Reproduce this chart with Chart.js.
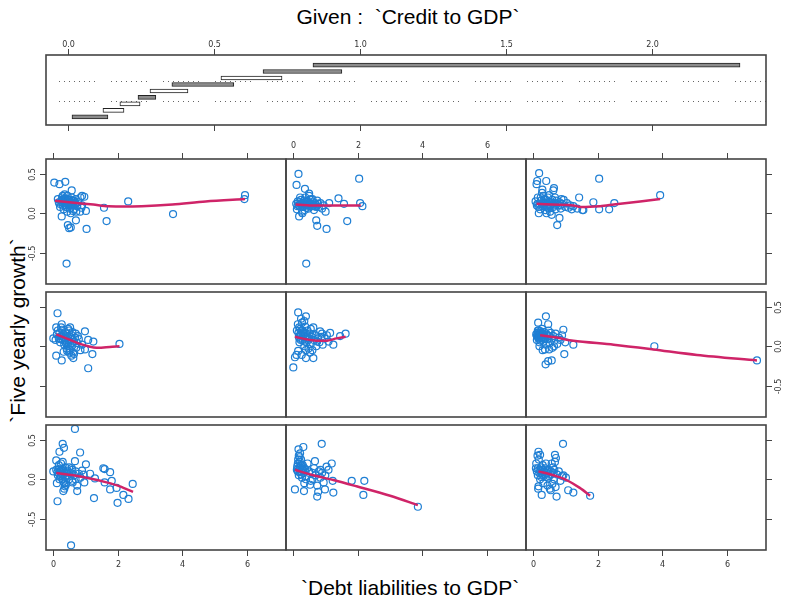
<!DOCTYPE html>
<html>
<head>
<meta charset="utf-8">
<script src="https://cdn.jsdelivr.net/npm/chart.js@4"></script>
<style>
  html, body { margin: 0; padding: 0; background: #fff; }
  #wrap { position: relative; width: 788px; height: 602px; overflow: hidden; background: #fff; }
  #wrap canvas { position: absolute; }
  .lbl { position: absolute; font: 21px 'Liberation Sans', Arial, sans-serif; color: #000; white-space: nowrap; line-height: 1; }
</style>
</head>
<body>
<div id="wrap">
  <div class="lbl" id="tGiven">Given :&nbsp; `Credit to GDP`</div>
  <div class="lbl" id="tX">`Debt liabilities to GDP`</div>
  <div class="lbl" id="tY">`Five yearly growth`</div>
</div>
<script>
// ticks
const X_TICKS = [0, 2, 4, 6];
const Y_TICKS = [0.5, 0.0, -0.5];
const GIVEN_TICKS = [0, 0.5, 1.0, 1.5, 2.0];

// given intervals (Credit to GDP), bottom to top
const GIVEN_LO = [0.014, 0.120, 0.178, 0.240, 0.281, 0.356, 0.524, 0.668, 0.839];
const GIVEN_HI = [0.137, 0.192, 0.247, 0.301, 0.411, 0.568, 0.733, 0.938, 2.301];
const GIVEN_SEP = [3.5, 6.5];

// panels 1..3 bottom row, 4..6 middle, 7..9 top (coplot order)
const P1_PTS = [[0.68,0.64],[0.3,0.45],[0.34,0.40],[0.2,0.35],[0.84,0.34],[0.1,0.24],[0.68,0.23],[1.02,0.19],[0.58,0.14],[1.56,0.14],[1.6,0.13],[1.15,0.07],[1.77,0.09],[1.3,0.01],[1.82,-0.02],[1.6,-0.04],[0.97,-0.04],[0.61,-0.04],[2.47,-0.06],[1.97,-0.11],[1.77,-0.13],[0.75,-0.15],[0.32,-0.15],[2.18,-0.2],[2.34,-0.25],[1.27,-0.24],[2.0,-0.3],[0.14,-0.28],[0.56,-0.84],[0.01,0.1],[0.37,-0.09],
  [0.1,0.12],[0.15,0.05],[0.18,0.18],[0.2,0.0],[0.22,0.1],[0.25,0.2],[0.28,0.06],[0.3,0.13],[0.32,-0.03],[0.35,0.08],[0.38,0.15],[0.4,-0.07],[0.42,0.04],[0.45,0.11],[0.5,0.0],[0.55,0.08],[0.6,0.12],[0.65,0.05],[0.7,0.1],[0.75,-0.08],[0.8,0.07],[0.85,0.02],[0.9,0.11],[0.95,0.06],[0.12,-0.05],[0.3,0.22],[0.5,0.15],[0.35,-0.12],[0.25,0.12],[0.45,0.05],[0.7,0.0],[0.6,-0.02],
  [0.14,0.09],[0.19,0.07],[0.24,0.04],[0.27,0.11],[0.33,0.1],[0.37,0.03],[0.4,0.09],[0.17,0.13],[0.29,0.0],[0.36,-0.05]];
const P1_FIT = [[0.1,0.08],[0.63,0.05],[1.15,0.01],[1.66,-0.04],[2.07,-0.09],[2.48,-0.16]];

const P2_PTS = [[0.89,0.45],[0.17,0.38],[0.32,0.41],[0.22,0.33],[0.68,0.23],[1.2,0.2],[1.04,0.16],[1.82,-0.02],[2.21,-0.02],[2.18,-0.2],[3.87,-0.35],[0.06,-0.13],[0.34,-0.15],[0.75,-0.22],[1.25,-0.17],[0.99,-0.13],[0.78,-0.16],[0.53,-0.07],[1.23,-0.02],
  [0.12,0.12],[0.15,0.2],[0.18,0.05],[0.2,0.28],[0.22,0.15],[0.25,0.1],[0.28,0.02],[0.3,0.18],[0.32,0.08],[0.35,-0.05],[0.38,0.13],[0.42,0.04],[0.45,0.2],[0.5,0.1],[0.55,-0.02],[0.6,0.08],[0.65,0.14],[0.7,0.05],[0.75,-0.08],[0.8,0.1],[0.85,0.02],[0.9,0.08],[0.95,-0.04],[1.0,0.05],[1.1,0.12],[0.18,0.3],[0.25,0.25],[0.4,0.0],[0.6,0.0],[0.85,0.12],[0.15,0.1],[0.3,0.12],
  [0.13,0.16],[0.17,0.14],[0.2,0.09],[0.24,0.18],[0.27,0.13],[0.33,0.15],[0.36,0.1],[0.21,0.22],[0.16,0.25],[0.26,0.06]];
const P2_FIT = [[0.06,0.12],[0.63,0.05],[1.25,-0.01],[1.97,-0.09],[3.01,-0.21],[3.87,-0.33]];

const P3_PTS = [[0.93,0.45],[0.17,0.35],[0.22,0.31],[0.68,0.31],[0.71,0.27],[0.73,-0.22],[0.27,-0.2],[0.17,-0.09],[1.25,-0.17],[1.09,-0.14],[1.77,-0.21],[0.94,0.05],[1.02,0.02],[0.09,0.14],
  [0.1,0.2],[0.12,0.1],[0.15,0.05],[0.18,0.25],[0.2,0.12],[0.22,0.0],[0.25,0.15],[0.28,0.07],[0.3,0.18],[0.32,-0.05],[0.35,0.1],[0.38,0.14],[0.4,0.03],[0.42,0.08],[0.45,-0.08],[0.48,0.12],[0.5,0.04],[0.52,-0.12],[0.55,0.1],[0.58,0.2],[0.6,-0.06],[0.62,0.15],[0.65,0.0],[0.68,0.22],[0.7,-0.1],[0.75,0.06],[0.8,0.1],[0.85,-0.02],[0.9,0.04],[0.14,0.3],[0.16,-0.12],[0.55,-0.14],[0.4,0.2],[0.3,0.05],[0.66,0.12],[0.2,0.08],
  [0.15,0.14],[0.23,0.1],[0.27,0.12],[0.33,0.09],[0.37,0.06],[0.44,0.11],[0.47,0.02],[0.26,0.03],[0.56,0.06],[0.64,0.08]];
const P3_FIT = [[0.17,0.1],[0.63,0.05],[1.04,-0.01],[1.45,-0.11],[1.77,-0.21]];

const P4_PTS = [[0.14,0.42],[0.1,0.24],[0.27,0.28],[0.53,0.24],[0.99,0.19],[1.09,0.08],[1.25,0.06],[0.99,-0.04],[1.22,-0.1],[1.09,-0.28],[0.1,-0.12],[0.27,-0.18],[0.63,-0.15],[2.06,0.03],[0.77,0.13],[0.01,0.1],[0.5,-0.08],
  [0.12,0.15],[0.15,0.2],[0.18,0.1],[0.2,0.17],[0.22,0.05],[0.25,0.13],[0.28,0.21],[0.3,0.08],[0.32,0.15],[0.35,0.02],[0.38,0.18],[0.4,0.1],[0.42,-0.03],[0.45,0.13],[0.48,0.05],[0.5,0.2],[0.52,-0.05],[0.55,0.09],[0.58,0.14],[0.6,0.01],[0.62,-0.08],[0.65,0.06],[0.68,0.11],[0.72,-0.02],[0.75,0.04],[0.8,0.09],[0.85,-0.05],[0.9,0.02],[0.08,0.08],[0.25,0.24],[0.33,-0.07],[0.47,0.22],[0.57,-0.12],[0.7,0.16],[0.4,0.04],[0.55,0.0],[0.65,-0.1],[0.3,0.12],
  [0.24,0.09],[0.34,0.11],[0.37,0.07],[0.43,0.16],[0.46,0.0],[0.5,0.07],[0.53,0.12],[0.58,0.04],[0.44,-0.06],[0.6,0.18]];
const P4_FIT = [[0.1,0.15],[0.53,0.08],[0.84,0.03],[1.09,0.0],[1.35,-0.02],[1.76,-0.01],[2.06,0.0]];

const P5_PTS = [[0.16,0.43],[0.4,0.38],[0.01,-0.27],[0.06,-0.14],[0.11,-0.11],[0.16,-0.06],[0.27,-0.11],[0.63,-0.15],[0.53,-0.08],[0.4,-0.15],[1.63,0.16],[1.46,0.13],[1.25,0.02],[1.15,0.17],[0.84,0.19],[0.63,0.24],
  [0.12,0.2],[0.15,0.28],[0.18,0.12],[0.2,0.05],[0.22,0.22],[0.25,0.15],[0.28,0.3],[0.3,0.08],[0.32,0.18],[0.35,0.0],[0.38,0.25],[0.4,0.12],[0.42,0.05],[0.45,0.2],[0.48,-0.03],[0.5,0.1],[0.52,0.16],[0.55,0.03],[0.58,0.12],[0.6,-0.05],[0.65,0.08],[0.7,0.14],[0.72,0.0],[0.78,0.1],[0.82,0.05],[0.88,0.12],[0.92,0.02],[0.98,0.1],[1.05,0.14],[1.1,0.06],[0.25,0.35],[0.35,0.32],[0.2,0.1],[0.3,0.2],[0.45,0.1],[0.6,0.15],[0.75,0.06],[0.9,0.16],[0.55,0.22],[0.4,-0.05],
  [0.17,0.17],[0.21,0.14],[0.24,0.08],[0.27,0.2],[0.31,0.13],[0.34,0.16],[0.37,0.06],[0.43,0.14],[0.47,0.08],[0.19,0.24]];
const P5_FIT = [[0.06,0.12],[0.53,0.08],[1.04,0.07],[1.35,0.1],[1.63,0.12]];

const P6_PTS = [[0.4,0.38],[0.16,0.3],[0.47,0.28],[0.94,0.21],[1.25,0.02],[0.97,-0.1],[0.37,-0.04],[0.39,-0.23],[0.47,-0.19],[0.58,-0.18],[3.76,0.0],[6.94,-0.18],
  [0.1,0.15],[0.12,0.08],[0.15,0.2],[0.18,0.12],[0.2,0.05],[0.22,0.17],[0.25,0.1],[0.28,0.22],[0.3,0.14],[0.32,0.06],[0.35,0.18],[0.38,0.11],[0.4,0.02],[0.42,0.15],[0.45,0.09],[0.48,0.2],[0.5,0.13],[0.52,0.04],[0.55,0.17],[0.58,0.1],[0.6,-0.02],[0.63,0.13],[0.66,0.07],[0.7,0.16],[0.75,0.03],[0.8,0.11],[0.85,0.08],[0.9,0.14],[1.0,0.05],[0.2,0.0],[0.3,-0.05],[0.5,-0.04],[0.65,0.0],[0.25,0.13],[0.35,0.12],[0.45,0.14],[0.15,0.12],[0.28,0.16],
  [0.12,0.13],[0.14,0.17],[0.17,0.1],[0.19,0.15],[0.21,0.12],[0.23,0.19],[0.26,0.15],[0.29,0.11],[0.33,0.15],[0.36,0.09],[0.18,0.2],[0.24,0.07]];
const P6_FIT = [[0.22,0.14],[0.73,0.11],[1.25,0.07],[2.5,0.02],[3.73,-0.04],[5.08,-0.11],[6.94,-0.18]];

const P7_PTS = [[0.04,0.39],[0.2,0.37],[0.38,0.40],[0.58,0.29],[0.97,0.21],[0.9,0.22],[1.02,0.03],[0.84,0.02],[0.9,0.1],[2.33,0.15],[3.72,-0.01],[5.95,0.23],[5.93,0.18],[1.58,0.07],[1.66,-0.10],[1.04,-0.2],[0.42,-0.64],[0.5,-0.19],[0.55,-0.18],[0.46,-0.15],[0.71,-0.09],[0.27,-0.04],
  [0.15,0.18],[0.2,0.12],[0.25,0.15],[0.28,0.2],[0.3,0.1],[0.32,0.16],[0.35,0.13],[0.38,0.19],[0.4,0.08],[0.42,0.15],[0.45,0.22],[0.47,0.12],[0.5,0.17],[0.52,0.06],[0.55,0.14],[0.58,0.2],[0.6,0.1],[0.62,0.16],[0.65,0.05],[0.68,0.12],[0.7,0.18],[0.75,0.09],[0.78,0.14],[0.85,0.2],[0.88,0.07],[0.22,0.08],[0.33,0.05],[0.44,0.02],[0.36,0.24],[0.5,0.1],[0.3,0.22],[0.55,0.0],[0.62,0.03],[0.18,0.14],[0.27,0.17],[0.41,0.12],[0.46,0.18],[0.57,0.11],[0.66,0.15],[0.72,0.02],
  [0.29,0.14],[0.34,0.18],[0.37,0.1],[0.39,0.15],[0.43,0.18],[0.48,0.15],[0.53,0.12],[0.56,0.17],[0.6,0.13],[0.64,0.1]];
const P7_FIT = [[0.06,0.16],[0.5,0.14],[1.25,0.11],[1.72,0.09],[2.75,0.09],[3.7,0.11],[4.73,0.15],[5.95,0.18]];

const P8_PTS = [[0.17,0.50],[0.11,0.36],[0.37,0.31],[0.5,0.25],[0.19,-0.04],[0.29,0.0],[0.72,-0.09],[0.75,-0.16],[1.04,-0.2],[1.68,-0.1],[1.41,0.19],[1.58,0.12],[2.05,0.44],[2.08,0.13],[2.15,0.09],[0.41,-0.64],[1.12,0.13],[1.01,0.02],
  [0.1,0.12],[0.15,0.15],[0.2,0.1],[0.25,0.17],[0.3,0.08],[0.33,0.13],[0.38,0.2],[0.4,0.11],[0.45,0.15],[0.48,0.06],[0.52,0.13],[0.55,0.18],[0.58,0.09],[0.62,0.14],[0.65,0.04],[0.7,0.11],[0.75,0.16],[0.8,0.08],[0.85,0.13],[0.9,0.06],[0.12,0.05],[0.22,0.2],[0.28,0.02],[0.35,0.16],[0.42,0.07],[0.5,0.22],[0.6,0.18],[0.68,0.13],[0.78,0.12],[0.95,0.1],[0.18,0.1],[0.27,0.13],[0.44,0.1],[0.56,0.12],[0.72,0.08],[0.36,0.04],
  [0.14,0.09],[0.2,0.14],[0.24,0.11],[0.3,0.12],[0.34,0.09],[0.39,0.13],[0.46,0.11],[0.53,0.09],[0.6,0.11],[0.66,0.09]];
const P8_FIT = [[0.08,0.11],[0.5,0.1],[1.0,0.1],[1.5,0.1],[2.1,0.1]];

const P9_PTS = [[0.19,0.51],[0.13,0.41],[0.11,0.37],[0.41,0.41],[0.29,0.30],[0.65,0.32],[0.63,0.29],[0.5,0.23],[0.75,-0.15],[0.82,-0.06],[1.43,0.2],[1.87,0.14],[2.05,0.44],[2.36,0.05],[2.52,0.13],[2.05,0.05],[1.53,0.04],[1.56,0.04],[1.37,0.06],[3.94,0.23],
  [0.08,0.15],[0.12,0.1],[0.15,0.2],[0.2,0.12],[0.22,0.05],[0.25,0.16],[0.3,0.09],[0.32,0.22],[0.35,0.13],[0.38,0.04],[0.4,0.17],[0.43,0.1],[0.46,0.2],[0.48,0.07],[0.5,0.14],[0.53,0.02],[0.56,0.11],[0.6,0.17],[0.63,0.08],[0.66,0.13],[0.7,0.05],[0.73,0.16],[0.78,0.1],[0.82,0.14],[0.86,0.06],[0.9,0.12],[0.95,0.17],[1.0,0.08],[1.05,0.13],[1.1,0.07],[1.15,0.1],[1.2,0.05],[1.25,0.09],[0.18,0.0],[0.28,0.26],[0.42,0.0],[0.58,-0.02],[0.68,0.2],[0.88,0.18],[0.45,0.07],[0.62,0.12],[0.36,0.18],[0.52,0.09],[0.24,0.2],
  [0.14,0.12],[0.17,0.08],[0.27,0.12],[0.33,0.1],[0.4,0.13],[0.47,0.11],[0.55,0.14],[0.65,0.1],[0.75,0.12],[0.85,0.1]];
const P9_FIT = [[0.11,0.12],[0.6,0.11],[1.25,0.1],[1.46,0.08],[2.08,0.09],[2.5,0.11],[3.32,0.15],[3.94,0.18]];

// styles
const PT_COL = '#1f7fd4';
const FIT_COL = '#cf2468';
const FRAME_COL = '#444';
const TICK_FONT = "8px 'DejaVu Sans', sans-serif";
const BAR_FILL = ['#8c8c8c','#ffffff','#ffffff','#8c8c8c','#ffffff','#8c8c8c','#ffffff','#8c8c8c','#8c8c8c'];
const M = 30; // canvas margin round each plot box

const wrap = document.getElementById('wrap');

function fmt1(v) { return v.toFixed(1); }

// box + R style ticks, drawn from the chart's own scales
const rFrame = {
  id: 'rFrame',
  beforeDatasetsDraw(chart, args, o) {
    if (!o.hLines) return;
    const { ctx, chartArea: a, scales } = chart;
    ctx.save();
    ctx.strokeStyle = '#666';
    ctx.lineWidth = 1;
    const dash = [];
    for (let i = 0; i < 8; i++) dash.push(1, 4);
    dash[dash.length - 1] = 16;
    ctx.setLineDash(dash);
    o.hLines.forEach(v => {
      const y = Math.round(scales.y.getPixelForValue(v)) + 0.5;
      ctx.beginPath(); ctx.moveTo(a.left + 13, y); ctx.lineTo(a.right, y); ctx.stroke();
    });
    ctx.restore();
  },
  afterDraw(chart, args, o) {
    const { ctx, chartArea: a, scales } = chart;
    ctx.save();
    ctx.strokeStyle = FRAME_COL;
    ctx.lineWidth = 1.6;
    ctx.strokeRect(a.left, a.top, a.width, a.height);
    ctx.lineWidth = 1;
    ctx.font = TICK_FONT;
    ctx.fillStyle = '#333';
    const s = o.sides || {};
    ['top', 'bottom', 'left', 'right'].forEach(side => {
      const mode = s[side];
      if (!mode) return;
      const horiz = side === 'top' || side === 'bottom';
      const sc = horiz ? scales.x : scales.y;
      const vals = horiz ? o.xTicks : o.yTicks;
      const f = horiz ? o.xFmt : o.yFmt;
      vals.forEach(v => {
        const p = Math.round(sc.getPixelForValue(v)) + 0.5;
        ctx.beginPath();
        if (side === 'top') { ctx.moveTo(p, a.top); ctx.lineTo(p, a.top - 6); }
        if (side === 'bottom') { ctx.moveTo(p, a.bottom); ctx.lineTo(p, a.bottom + 6); }
        if (side === 'left') { ctx.moveTo(a.left, p); ctx.lineTo(a.left - 6, p); }
        if (side === 'right') { ctx.moveTo(a.right, p); ctx.lineTo(a.right + 6, p); }
        ctx.stroke();
        if (mode !== 'labels') return;
        ctx.textAlign = 'center';
        ctx.textBaseline = 'middle';
        if (side === 'top') ctx.fillText(f(v), p, a.top - (o.topGap || 13));
        if (side === 'bottom') ctx.fillText(f(v), p, a.bottom + 15);
        if (side === 'left' || side === 'right') {
          ctx.save();
          ctx.translate(side === 'left' ? a.left - 13 : a.right + 13, p);
          ctx.rotate(-Math.PI / 2);
          ctx.fillText(f(v), 0, 0);
          ctx.restore();
        }
      });
    });
    ctx.restore();
  }
};

function makeCanvas(left, top, w, h) {
  const c = document.createElement('canvas');
  c.width = w + 2 * M;
  c.height = h + 2 * M;
  c.style.left = (left - M) + 'px';
  c.style.top = (top - M) + 'px';
  wrap.appendChild(c);
  return c;
}

// given panel
new Chart(makeCanvas(46, 55, 720, 70), {
  type: 'bar',
  data: {
    datasets: [{
      data: GIVEN_LO.map((lo, i) => ({ x: [lo, GIVEN_HI[i]], y: i + 1 })),
      backgroundColor: BAR_FILL,
      borderColor: '#222',
      borderWidth: 1,
      borderSkipped: false,
      barThickness: 4
    }]
  },
  options: {
    indexAxis: 'y',
    responsive: false,
    animation: false,
    layout: { padding: M },
    plugins: {
      legend: { display: false }, tooltip: { enabled: false },
      rFrame: { sides: { top: 'labels', bottom: 'ticks' }, xTicks: GIVEN_TICKS, xFmt: fmt1, topGap: 10, hLines: GIVEN_SEP }
    },
    scales: {
      x: { type: 'linear', min: -0.075, max: 2.39, display: false },
      y: { type: 'linear', min: -0.25, max: 10.55, offset: false, display: false }
    }
  },
  plugins: [rFrame]
});

// conditioning panels
const COLS = [46, 286, 526];
const ROWS = [159, 292, 425];
const PANELS = [
  { r: 2, c: 0, pts: P1_PTS, fit: P1_FIT, sides: { bottom: 'labels', left: 'labels' } },
  { r: 2, c: 1, pts: P2_PTS, fit: P2_FIT, sides: { bottom: 'ticks' } },
  { r: 2, c: 2, pts: P3_PTS, fit: P3_FIT, sides: { bottom: 'labels', right: 'ticks' } },
  { r: 1, c: 0, pts: P4_PTS, fit: P4_FIT, sides: { left: 'ticks' } },
  { r: 1, c: 1, pts: P5_PTS, fit: P5_FIT, sides: {} },
  { r: 1, c: 2, pts: P6_PTS, fit: P6_FIT, sides: { right: 'labels' } },
  { r: 0, c: 0, pts: P7_PTS, fit: P7_FIT, sides: { top: 'ticks', left: 'labels' } },
  { r: 0, c: 1, pts: P8_PTS, fit: P8_FIT, sides: { top: 'labels' } },
  { r: 0, c: 2, pts: P9_PTS, fit: P9_FIT, sides: { top: 'ticks', right: 'ticks' } }
];

const toXY = arr => arr.map(([x, y]) => ({ x, y }));

PANELS.forEach(p => {
  new Chart(makeCanvas(COLS[p.c], ROWS[p.r], 240, 125), {
    type: 'scatter',
    data: {
      datasets: [
        { type: 'line', data: toXY(p.fit), borderColor: FIT_COL, borderWidth: 2.5, pointRadius: 0, fill: false, tension: 0.3 },
        { data: toXY(p.pts), pointStyle: 'circle', pointRadius: 3.5, borderColor: PT_COL, backgroundColor: 'rgba(0,0,0,0)', borderWidth: 1.2 }
      ]
    },
    options: {
      responsive: false,
      animation: false,
      layout: { padding: M },
      plugins: {
        legend: { display: false }, tooltip: { enabled: false },
        rFrame: { sides: p.sides, xTicks: X_TICKS, yTicks: Y_TICKS, xFmt: v => String(v), yFmt: fmt1 }
      },
      scales: {
        x: { type: 'linear', min: -0.217, max: 7.22, display: false },
        y: { type: 'linear', min: -0.9, max: 0.69, display: false }
      }
    },
    plugins: [rFrame]
  });
});

// outer titles
const tG = document.getElementById('tGiven');
tG.style.left = (408 - tG.offsetWidth / 2) + 'px';
tG.style.top = (16 - tG.offsetHeight / 2) + 'px';
const tX = document.getElementById('tX');
tX.style.left = (410 - tX.offsetWidth / 2) + 'px';
tX.style.top = (587 - tX.offsetHeight / 2) + 'px';
const tY = document.getElementById('tY');
tY.style.left = (17 - tY.offsetWidth / 2) + 'px';
tY.style.top = (330 - tY.offsetHeight / 2) + 'px';
tY.style.transform = 'rotate(-90deg)';
</script>
</body>
</html>
